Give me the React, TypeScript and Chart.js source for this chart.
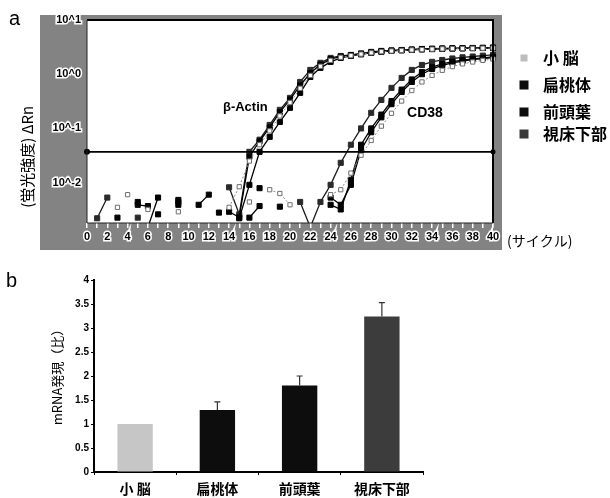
import React, { useEffect, useRef } from 'react';
import { Chart, registerables } from 'chart.js';

Chart.register(...registerables);

const N = null;

// ---------- Panel a : amplification plot ----------
const cycleLabels = ['0','1','2','3','4','5','6','7','8','9','10','11','12','13','14','15','16','17','18','19','20',
  '21','22','23','24','25','26','27','28','29','30','31','32','33','34','35','36','37','38','39','40'];

const yTickValues = [10, 1, 0.1, 0.01];
const yTickLabels = ['10^1', '10^0', '10^-1', '10^-2'];
const thresholdValue = 0.037;

const tissues = ['小 脳', '扁桃体', '前頭葉', '視床下部'];

// β-Actin
const actinCb = [N,N,N,N,0.006,N,0.0032,N,N,N,N,N,N,N,0.0035,0.0084,0.025,0.05,0.09,0.17,0.3,
  0.55,0.95,1.4,1.8,2.05,2.2,2.35,2.48,2.6,2.68,2.74,2.8,2.85,2.9,2.93,2.96,2.98,3.0,3.02,3.04];
const actinAm = [N,N,N,N,N,0.0039,0.0037,N,N,N,N,N,N,N,0.0029,0.0023,0.03,0.058,0.105,0.2,0.34,
  0.62,1.05,1.5,1.9,2.12,2.25,2.38,2.52,2.64,2.72,2.78,2.84,2.9,2.94,2.97,3.0,3.02,3.04,3.06,3.08];
const actinFr = [N,N,N,N,N,N,N,0.0026,N,0.0048,N,N,N,N,N,0.0022,0.0091,0.037,0.07,0.132,0.24,
  0.453,0.89,1.31,1.69,2.0,2.17,2.32,2.47,2.58,2.69,2.75,2.8,2.86,2.9,2.94,2.97,3.0,3.02,3.04,3.05];
const actinHy = [N,N,N,N,N,0.00226,N,N,N,N,N,N,N,N,0.0082,0.0026,0.037,0.062,0.116,0.22,0.366,
  0.72,1.2,1.62,2.0,2.17,2.27,2.42,2.58,2.69,2.75,2.8,2.86,2.92,2.95,2.98,3.0,3.02,3.05,3.07,3.1];

// CD38
const cd38Cb = [N,N,N,0.0035,N,N,N,N,N,0.0029,N,N,N,N,N,N,0.0044,N,0.0074,0.0063,0.0039,
  N,N,N,0.006,0.0074,0.015,0.032,0.06,0.11,0.19,0.32,0.5,0.72,0.95,1.18,1.38,1.55,1.68,1.8,1.9];
const cd38Am = [N,N,N,0.00226,N,N,0.0015,0.0053,N,N,N,N,N,0.0028,N,N,0.00226,0.0037,N,N,N,
  N,N,N,0.0039,0.0032,0.0113,0.05,0.1,0.18,0.32,0.52,0.8,1.1,1.35,1.55,1.7,1.82,1.92,2.0,2.08];
const cd38Fr = [N,N,N,N,N,0.0044,N,N,N,0.0039,N,0.0039,0.006,N,N,N,N,0.0079,N,0.0036,N,
  N,N,N,0.0053,0.0039,0.0091,0.04,0.085,0.16,0.28,0.47,0.72,1.0,1.25,1.45,1.62,1.75,1.86,1.95,2.02];
const cd38Hy = [N,0.0022,0.0053,N,N,N,N,N,N,0.0044,N,N,N,N,N,N,N,N,N,N,N,
  0.0044,0.0015,0.0044,0.0091,0.0232,0.05,0.1,0.194,0.336,0.56,0.855,1.2,1.48,1.69,1.83,1.95,2.05,2.12,2.2,2.27];

// ---------- Panel b : relative mRNA expression ----------
const exprValues = [1.0, 1.29, 1.8, 3.24];
const exprErrors = [0.0, 0.17, 0.2, 0.29];
const barColors = ['#c6c6c6', '#0d0d0d', '#0d0d0d', '#3c3c3c'];
const legendColors = ['#bdbdbd', '#0d0d0d', '#0d0d0d', '#3a3a3a'];

const JP = '"Noto Sans CJK JP", "Noto Sans", sans-serif';
const SANS = '"Liberation Sans", Arial, sans-serif';

function styleFor(kind: string) {
  if (kind === 'cb') {
    return {
      borderColor: '#8c8c8c', borderWidth: 1, borderDash: [2, 2],
      pointStyle: 'rect', pointRadius: 3, pointBackgroundColor: '#fff',
      pointBorderColor: '#6f6f6f', pointBorderWidth: 1,
    };
  }
  if (kind === 'hy') {
    return {
      borderColor: '#1a1a1a', borderWidth: 1.3,
      pointStyle: 'rect', pointRadius: 3.6, pointBackgroundColor: '#2a2a2a',
      pointBorderColor: '#2a2a2a', pointBorderWidth: 1,
    };
  }
  return {
    borderColor: '#000', borderWidth: 1.3,
    pointStyle: 'rect', pointRadius: 3.6, pointBackgroundColor: '#000',
    pointBorderColor: '#000', pointBorderWidth: 1,
  };
}

const framePlugin = {
  id: 'frameA',
  beforeDraw(chart: any) {
    const { ctx, chartArea: ca } = chart;
    ctx.save();
    ctx.fillStyle = '#838383';
    ctx.fillRect(ca.left - 47, ca.top - 5, ca.right - ca.left + 56, ca.bottom - ca.top + 32);
    ctx.fillStyle = '#fff';
    ctx.fillRect(ca.left, ca.top, ca.right - ca.left, ca.bottom - ca.top);
    ctx.restore();
  },
  afterDraw(chart: any) {
    const { ctx, chartArea: ca, scales } = chart;
    const ys = scales.y;
    const xs = scales.x;
    ctx.save();
    // threshold
    const ty = ys.getPixelForValue(thresholdValue);
    ctx.strokeStyle = '#000';
    ctx.lineWidth = 1.6;
    ctx.beginPath();
    ctx.moveTo(ca.left, ty);
    ctx.lineTo(ca.right, ty);
    ctx.stroke();
    ctx.fillStyle = '#000';
    ctx.beginPath(); ctx.arc(ca.left, ty, 3, 0, Math.PI * 2); ctx.fill();
    ctx.beginPath(); ctx.arc(ca.right, ty, 2.5, 0, Math.PI * 2); ctx.fill();
    // border
    ctx.lineWidth = 2;
    ctx.beginPath();
    ctx.moveTo(ca.left, ca.top);
    ctx.lineTo(ca.right, ca.top);
    ctx.lineTo(ca.right, ca.bottom);
    ctx.stroke();
    ctx.lineWidth = 1;
    ctx.strokeStyle = '#222';
    ctx.beginPath();
    ctx.moveTo(ca.left, ca.top);
    ctx.lineTo(ca.left, ca.bottom);
    ctx.lineTo(ca.right, ca.bottom);
    ctx.stroke();
    // gene annotations
    ctx.fillStyle = '#000';
    ctx.font = 'bold 13px ' + SANS;
    ctx.textAlign = 'center';
    ctx.textBaseline = 'middle';
    ctx.fillText('β-Actin', xs.getPixelForValue(15.6), ys.getPixelForValue(0.24));
    ctx.font = 'bold 14px ' + SANS;
    ctx.fillText('CD38', xs.getPixelForValue(33.3), ys.getPixelForValue(0.194));
    // panel letter
    ctx.textAlign = 'left';
    ctx.font = '20px ' + SANS;
    ctx.fillText('a', 9, 19);
    // y title
    ctx.save();
    ctx.translate(27, ys.getPixelForValue(0.03));
    ctx.rotate(-Math.PI / 2);
    ctx.textAlign = 'center';
    ctx.font = '15px ' + JP;
    ctx.fillText('(蛍光強度) ΔRn', 0, 0);
    ctx.restore();
    // x title
    ctx.textAlign = 'left';
    ctx.font = '14px ' + JP;
    ctx.fillText('(サイクル)', ca.right + 14, ca.bottom + 18);
    // legend
    const rows = [58, 85, 112, 134];
    tissues.forEach((t, i) => {
      ctx.fillStyle = legendColors[i];
      const s = i === 0 ? 7 : 9;
      ctx.fillRect(524 - s / 2, rows[i] - s / 2, s, s);
      ctx.fillStyle = '#000';
      ctx.font = 'bold 16px ' + JP;
      ctx.fillText(t, 543, rows[i]);
    });
    ctx.restore();
  },
};

const errorPlugin = {
  id: 'errB',
  afterDatasetsDraw(chart: any) {
    const { ctx, scales } = chart;
    const meta = chart.getDatasetMeta(0);
    ctx.save();
    meta.data.forEach((el: any, i: number) => {
      if (!exprErrors[i]) return;
      const yTop = scales.y.getPixelForValue(exprValues[i] + exprErrors[i]);
      ctx.strokeStyle = '#333';
      ctx.lineWidth = 1.2;
      ctx.beginPath();
      ctx.moveTo(el.x, el.y);
      ctx.lineTo(el.x, yTop);
      ctx.moveTo(el.x - 3, yTop);
      ctx.lineTo(el.x + 3, yTop);
      ctx.stroke();
    });
    // texts
    const ca = chart.chartArea;
    ctx.fillStyle = '#000';
    ctx.textBaseline = 'middle';
    ctx.textAlign = 'left';
    ctx.font = '20px ' + SANS;
    ctx.fillText('b', 6, 26);
    ctx.save();
    ctx.translate(57, (ca.top + ca.bottom) / 2 - 2);
    ctx.rotate(-Math.PI / 2);
    ctx.textAlign = 'center';
    ctx.font = '13px ' + JP;
    ctx.fillText('mRNA発現（比）', 0, 0);
    ctx.restore();
    ctx.restore();
  },
};

export default function App() {
  const refA = useRef<HTMLCanvasElement>(null);
  const refB = useRef<HTMLCanvasElement>(null);

  useEffect(() => {
    const kinds = ['cb', 'am', 'fr', 'hy'];
    const actin = [actinCb, actinAm, actinFr, actinHy];
    const cd38 = [cd38Cb, cd38Am, cd38Fr, cd38Hy];
    const datasets: any[] = [];
    kinds.forEach((k, i) => {
      datasets.push({ label: 'β-Actin ' + tissues[i], data: actin[i], spanGaps: false, ...styleFor(k) });
      datasets.push({ label: 'CD38 ' + tissues[i], data: cd38[i], spanGaps: false, ...styleFor(k) });
    });

    const chartA = new Chart(refA.current as HTMLCanvasElement, {
      type: 'line',
      data: { labels: cycleLabels, datasets },
      options: {
        animation: false,
        responsive: false,
        devicePixelRatio: 1,
        layout: { padding: { left: 40, right: 117, top: 20, bottom: 5 }, autoPadding: false },
        plugins: { legend: { display: false }, tooltip: { enabled: false } },
        scales: {
          x: {
            type: 'category',
            offset: false,
            border: { display: false },
            grid: { drawOnChartArea: false, drawTicks: true, tickLength: 5, color: '#fff', lineWidth: 1.5 },
            ticks: {
              autoSkip: false, maxRotation: 0, minRotation: 0, padding: 2,
              color: '#000', textStrokeColor: '#fff', textStrokeWidth: 3,
              font: { family: SANS, weight: 'bold', size: 11 },
              callback: (_v: any, i: number) => (i % 2 === 0 ? cycleLabels[i] : ''),
            },
            afterFit: (s: any) => { s.height = 27; },
          },
          y: {
            type: 'logarithmic',
            min: 0.0018,
            max: 10,
            border: { display: false },
            grid: { drawOnChartArea: false, drawTicks: false },
            afterBuildTicks: (s: any) => { s.ticks = yTickValues.map((v) => ({ value: v })); },
            ticks: {
              padding: 6,
              color: '#000', textStrokeColor: '#fff', textStrokeWidth: 3,
              font: { family: SANS, weight: 'bold', size: 11 },
              callback: (_v: any, i: number) => yTickLabels[i],
            },
            afterFit: (s: any) => { s.width = 47; },
          },
        },
      } as any,
      plugins: [framePlugin],
    });

    const chartB = new Chart(refB.current as HTMLCanvasElement, {
      type: 'bar',
      data: {
        labels: tissues,
        datasets: [{
          data: exprValues,
          backgroundColor: barColors,
          borderWidth: 0,
          barPercentage: 0.43,
          categoryPercentage: 1,
        }],
      },
      options: {
        animation: false,
        responsive: false,
        devicePixelRatio: 1,
        layout: { padding: { left: 0, right: 187, top: 25, bottom: 0 }, autoPadding: false },
        plugins: { legend: { display: false }, tooltip: { enabled: false } },
        scales: {
          x: {
            border: { color: '#000', width: 2 },
            grid: { drawOnChartArea: false, drawTicks: true, tickLength: 3, color: '#000' },
            ticks: { padding: 5, color: '#000', font: { family: JP, weight: 'bold', size: 14 } },
            afterFit: (s: any) => { s.height = 26; },
          },
          y: {
            min: 0,
            max: 4,
            border: { color: '#000', width: 2 },
            grid: { drawOnChartArea: false, drawTicks: true, tickLength: 3, color: '#000' },
            ticks: {
              stepSize: 0.5, padding: 2, color: '#000',
              font: { family: SANS, weight: 'bold', size: 10 },
              callback: (v: any) => String(v),
            },
            afterFit: (s: any) => { s.width = 94; },
          },
        },
      } as any,
      plugins: [errorPlugin],
    });

    return () => { chartA.destroy(); chartB.destroy(); };
  }, []);

  return (
    <div style={{ position: 'fixed', left: 0, top: 0, width: 610, height: 498, background: '#fff' }}>
      <canvas ref={refA} width={610} height={255} style={{ position: 'absolute', left: 0, top: 0 }} />
      <canvas ref={refB} width={610} height={243} style={{ position: 'absolute', left: 0, top: 255 }} />
    </div>
  );
}
